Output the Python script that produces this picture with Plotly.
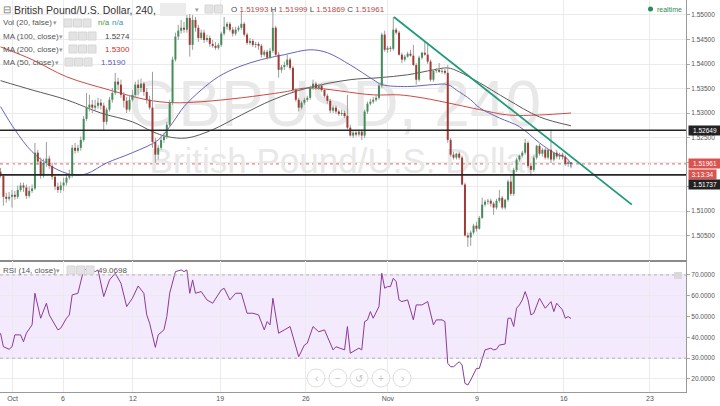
import plotly.graph_objects as go

# ---------------- data ----------------
candle_idx = list(range(200))
open_ = [1.5180,1.5172,1.5129,1.5125,1.5129,1.5133,1.5129,1.5143,1.5152,1.5148,
1.5131,1.5141,1.5146,1.5219,1.5201,1.5172,1.5198,1.5207,1.5192,1.5170,
1.5150,1.5143,1.5152,1.5158,1.5168,1.5172,1.5229,1.5223,1.5229,1.5245,
1.5288,1.5311,1.5317,1.5311,1.5315,1.5321,1.5315,1.5282,1.5307,1.5327,
1.5341,1.5364,1.5358,1.5337,1.5325,1.5307,1.5327,1.5337,1.5358,1.5351,
1.5360,1.5343,1.5327,1.5311,1.5241,1.5215,1.5229,1.5245,1.5252,1.5276,
1.5321,1.5409,1.5456,1.5468,1.5474,1.5470,1.5494,1.5439,1.5490,1.5474,
1.5453,1.5464,1.5449,1.5453,1.5441,1.5437,1.5433,1.5439,1.5462,1.5476,
1.5482,1.5470,1.5462,1.5470,1.5474,1.5482,1.5460,1.5443,1.5447,1.5439,
1.5441,1.5437,1.5419,1.5425,1.5413,1.5427,1.5474,1.5419,1.5388,1.5394,
1.5398,1.5409,1.5392,1.5347,1.5327,1.5311,1.5321,1.5327,1.5331,1.5351,
1.5360,1.5351,1.5356,1.5347,1.5335,1.5325,1.5305,1.5311,1.5303,1.5298,
1.5300,1.5294,1.5270,1.5254,1.5260,1.5256,1.5262,1.5254,1.5303,1.5319,
1.5323,1.5327,1.5331,1.5356,1.5460,1.5429,1.5433,1.5431,1.5470,1.5464,
1.5419,1.5409,1.5415,1.5421,1.5417,1.5398,1.5368,1.5413,1.5423,1.5419,
1.5405,1.5368,1.5386,1.5388,1.5384,1.5386,1.5382,1.5245,1.5215,1.5209,
1.5217,1.5209,1.5154,1.5050,1.5046,1.5056,1.5070,1.5064,1.5086,1.5113,
1.5119,1.5121,1.5115,1.5107,1.5121,1.5127,1.5107,1.5123,1.5160,1.5135,
1.5184,1.5205,1.5213,1.5219,1.5239,1.5192,1.5184,1.5209,1.5233,1.5217,
1.5225,1.5209,1.5225,1.5205,1.5219,1.5211,1.5215,1.5211,1.5196,1.51993]
high = [1.5188,1.5174,1.5137,1.5139,1.5143,1.5141,1.5152,1.5158,1.5158,1.5154,
1.5150,1.5154,1.5239,1.5225,1.5209,1.5207,1.5241,1.5213,1.5198,1.5174,
1.5158,1.5160,1.5168,1.5174,1.5184,1.5235,1.5239,1.5235,1.5252,1.5294,
1.5341,1.5337,1.5327,1.5327,1.5331,1.5329,1.5321,1.5311,1.5333,1.5351,
1.5382,1.5372,1.5368,1.5343,1.5333,1.5337,1.5347,1.5364,1.5368,1.5370,
1.5364,1.5351,1.5335,1.5384,1.5249,1.5235,1.5254,1.5260,1.5282,1.5327,
1.5415,1.5464,1.5480,1.5490,1.5486,1.5500,1.5502,1.5500,1.5496,1.5480,
1.5470,1.5470,1.5460,1.5458,1.5449,1.5445,1.5443,1.5466,1.5496,1.5486,
1.5486,1.5476,1.5476,1.5478,1.5507,1.5486,1.5464,1.5453,1.5451,1.5445,
1.5445,1.5441,1.5429,1.5429,1.5433,1.5511,1.5478,1.5425,1.5398,1.5405,
1.5419,1.5413,1.5396,1.5351,1.5331,1.5325,1.5331,1.5335,1.5356,1.5368,
1.5364,1.5360,1.5360,1.5351,1.5339,1.5329,1.5315,1.5315,1.5307,1.5307,
1.5305,1.5337,1.5276,1.5264,1.5264,1.5266,1.5266,1.5307,1.5323,1.5329,
1.5333,1.5337,1.5360,1.5464,1.5468,1.5437,1.5437,1.5496,1.5474,1.5468,
1.5423,1.5419,1.5425,1.5429,1.5439,1.5402,1.5417,1.5425,1.5445,1.5443,
1.5409,1.5388,1.5392,1.5402,1.5390,1.5390,1.5398,1.5249,1.5221,1.5219,
1.5221,1.5213,1.5158,1.5056,1.5060,1.5074,1.5078,1.5090,1.5127,1.5123,
1.5125,1.5125,1.5119,1.5125,1.5143,1.5131,1.5125,1.5164,1.5174,1.5188,
1.5209,1.5215,1.5223,1.5247,1.5243,1.5198,1.5213,1.5235,1.5237,1.5229,
1.5229,1.5227,1.5266,1.5221,1.5225,1.5219,1.5219,1.5215,1.5205,1.51999]
low = [1.5168,1.5111,1.5117,1.5121,1.5107,1.5123,1.5125,1.5139,1.5139,1.5125,
1.5127,1.5137,1.5143,1.5194,1.5166,1.5168,1.5190,1.5186,1.5164,1.5143,
1.5137,1.5137,1.5141,1.5152,1.5164,1.5168,1.5217,1.5219,1.5223,1.5241,
1.5284,1.5303,1.5300,1.5305,1.5309,1.5307,1.5264,1.5276,1.5303,1.5321,
1.5337,1.5347,1.5331,1.5311,1.5300,1.5303,1.5323,1.5331,1.5337,1.5343,
1.5335,1.5319,1.5307,1.5229,1.5198,1.5205,1.5225,1.5239,1.5247,1.5272,
1.5317,1.5405,1.5449,1.5462,1.5464,1.5464,1.5415,1.5429,1.5466,1.5445,
1.5449,1.5443,1.5445,1.5435,1.5433,1.5429,1.5429,1.5435,1.5458,1.5470,
1.5466,1.5456,1.5458,1.5466,1.5470,1.5456,1.5439,1.5439,1.5435,1.5433,
1.5429,1.5413,1.5415,1.5409,1.5411,1.5423,1.5415,1.5372,1.5382,1.5388,
1.5394,1.5388,1.5343,1.5323,1.5303,1.5307,1.5317,1.5323,1.5327,1.5347,
1.5347,1.5347,1.5343,1.5331,1.5319,1.5300,1.5300,1.5298,1.5294,1.5294,
1.5290,1.5266,1.5252,1.5249,1.5252,1.5252,1.5245,1.5249,1.5298,1.5315,
1.5319,1.5323,1.5327,1.5351,1.5425,1.5423,1.5425,1.5427,1.5460,1.5417,
1.5402,1.5405,1.5413,1.5415,1.5396,1.5358,1.5364,1.5409,1.5417,1.5400,
1.5364,1.5364,1.5382,1.5382,1.5380,1.5378,1.5239,1.5211,1.5205,1.5205,
1.5205,1.5152,1.5048,1.5027,1.5029,1.5052,1.5058,1.5062,1.5084,1.5109,
1.5113,1.5109,1.5092,1.5103,1.5117,1.5103,1.5103,1.5119,1.5131,1.5131,
1.5180,1.5201,1.5209,1.5215,1.5188,1.5172,1.5180,1.5205,1.5213,1.5211,
1.5205,1.5205,1.5198,1.5201,1.5207,1.5205,1.5205,1.5192,1.5190,1.51869]
close = [1.5172,1.5129,1.5125,1.5129,1.5133,1.5129,1.5143,1.5152,1.5148,1.5131,
1.5141,1.5146,1.5219,1.5201,1.5172,1.5198,1.5207,1.5192,1.5170,1.5150,
1.5143,1.5152,1.5158,1.5168,1.5172,1.5229,1.5223,1.5229,1.5245,1.5288,
1.5311,1.5317,1.5311,1.5315,1.5321,1.5315,1.5282,1.5307,1.5327,1.5341,
1.5364,1.5358,1.5337,1.5325,1.5307,1.5327,1.5337,1.5358,1.5351,1.5360,
1.5343,1.5327,1.5311,1.5241,1.5215,1.5229,1.5245,1.5252,1.5276,1.5321,
1.5409,1.5456,1.5468,1.5474,1.5470,1.5494,1.5439,1.5490,1.5474,1.5453,
1.5464,1.5449,1.5453,1.5441,1.5437,1.5433,1.5439,1.5462,1.5476,1.5482,
1.5470,1.5462,1.5470,1.5474,1.5482,1.5460,1.5443,1.5447,1.5439,1.5441,
1.5437,1.5419,1.5425,1.5413,1.5427,1.5474,1.5419,1.5388,1.5394,1.5398,
1.5409,1.5392,1.5347,1.5327,1.5311,1.5321,1.5327,1.5331,1.5351,1.5360,
1.5351,1.5356,1.5347,1.5335,1.5325,1.5305,1.5311,1.5303,1.5298,1.5300,
1.5294,1.5270,1.5254,1.5260,1.5256,1.5262,1.5254,1.5303,1.5319,1.5323,
1.5327,1.5331,1.5356,1.5460,1.5429,1.5433,1.5431,1.5470,1.5464,1.5419,
1.5409,1.5415,1.5421,1.5417,1.5398,1.5368,1.5413,1.5423,1.5419,1.5405,
1.5368,1.5386,1.5388,1.5384,1.5386,1.5382,1.5245,1.5215,1.5209,1.5217,
1.5209,1.5154,1.5050,1.5046,1.5056,1.5070,1.5064,1.5086,1.5113,1.5119,
1.5121,1.5115,1.5107,1.5121,1.5127,1.5107,1.5123,1.5160,1.5135,1.5184,
1.5205,1.5213,1.5219,1.5239,1.5192,1.5184,1.5209,1.5233,1.5217,1.5225,
1.5209,1.5225,1.5205,1.5219,1.5211,1.5215,1.5211,1.5196,1.51993,1.51961]

ma50_x = [0,5,11,18,25,30,37,46,55,60,64,70,76,83,91,99,108,114,122,130,133,142,151,156,159,164,167,174,181,188,193,198,199]
ma50_y = [1.5313,1.5266,1.5221,1.5190,1.5174,1.5176,1.5198,1.5219,1.5245,1.5280,1.5313,1.5347,1.5374,1.5394,1.5409,1.5419,1.5429,1.5423,1.5398,1.5368,1.5358,1.5354,1.5358,1.5358,1.5347,1.5327,1.5311,1.5290,1.5272,1.5239,1.5219,1.5205,1.5190]
ma100_x = [0,11,23,35,46,53,58,65,74,84,95,107,122,132,142,151,156,160,167,177,188,199]
ma100_y = [1.5366,1.5347,1.5327,1.5300,1.5282,1.5262,1.5252,1.5249,1.5266,1.5296,1.5327,1.5351,1.5368,1.5372,1.5378,1.5388,1.5392,1.5384,1.5362,1.5327,1.5292,1.5274]
ma200_x = [0,11,23,38,51,60,70,84,99,107,130,139,147,159,167,177,188,199]
ma200_y = [1.5435,1.5409,1.5374,1.5347,1.5327,1.5321,1.5323,1.5331,1.5343,1.5351,1.5337,1.5337,1.5331,1.5317,1.5307,1.5296,1.5296,1.5300]

rsi_x = [0,1,3,4,5,7,8,9,11,12,14,16,17,20,21,23,24,25,27,28,
         29,31,33,34,36,38,40,42,44,46,48,50,51,52,54,55,57,58,59,61,
         63,64,65,66,67,68,70,72,74,77,78,80,82,84,86,88,90,92,93,94,
         95,97,99,101,104,106,107,109,111,113,116,117,120,121,122,124,125,126,127,128,
         129,130,132,133,134,135,136,137,138,139,140,142,144,145,147,149,151,152,154,155,
         156,157,158,160,161,162,163,164,166,167,169,171,172,173,174,176,177,178,179,180,
         181,182,183,184,185,186,188,190,192,193,194,196,197,198,199]
rsi_y = [42.0,35.5,34.3,35.5,41.2,41.2,37.9,42.0,46.0,61.2,49.2,56.4,50.8,43.6,44.4,49.2,50.8,60.4,61.2,66.8,
         72.4,73.2,71.6,72.4,59.6,67.6,70.8,66.0,54.8,58.8,64.7,61.2,50.8,46.8,35.2,41.2,43.6,50.0,61.2,71.6,
         72.4,71.6,72.4,61.2,67.6,61.2,62.0,58.0,56.4,62.8,63.6,58.0,61.2,61.2,51.6,51.6,50.8,43.6,47.6,46.0,
         58.8,42.0,43.6,45.2,30.7,36.3,37.2,45.2,42.7,43.6,34.0,35.5,34.0,45.2,32.4,34.0,34.8,34.0,47.6,48.4,
         52.4,49.2,54.8,70.8,63.6,64.4,64.4,68.4,66.8,58.0,57.2,58.0,48.4,55.6,55.6,57.2,46.0,48.4,48.4,47.6,
         27.5,25.9,25.9,28.3,26.7,17.9,17.1,19.5,25.1,25.1,34.0,34.8,34.0,34.3,36.3,36.8,49.2,49.2,45.2,54.0,
         55.6,58.0,62.0,58.0,50.8,51.6,58.8,54.0,57.2,52.4,56.4,53.2,49.2,50.0,49.07]

levels = [1.52649, 1.51737]
last_price = 1.51961
trend_x = [137.2, 220.2]
trend_y = [1.5496, 1.5113]

day_ticks = [4.2, 21.8, 46.2, 76.6, 106.5, 135.1, 166.2, 196.5, 226.5]
day_labels = ["Oct", "6", "12", "19", "26", "Nov", "9", "16", "23"]
price_ticks = [1.505, 1.510, 1.515, 1.520, 1.525, 1.530, 1.535, 1.540, 1.545, 1.550]
price_labels = ["1.50500", "1.51000", "", "", "1.52500", "1.53000", "1.53500", "1.54000", "1.54500", "1.55000"]
rsi_ticks = [20, 30, 40, 50, 60, 70]
rsi_labels = ["20.0000", "30.0000", "40.0000", "50.0000", "60.0000", "70.0000"]

# ---------------- layout constants ----------------
W, H = 720, 406
PLOT_R = 686
def fx(px):
    return px / W
def fy(py):
    return 1 - py / H

FONT = "Liberation Sans, Arial, sans-serif"
UP, DN, WICK = "#448c5a", "#a23b36", "#9d9d9d"
WM = "#e8e8e8"

fig = go.Figure()

# watermark (behind candles)
fig.add_trace(go.Scatter(x=[116.6], y=[1.5307], mode="text", text=["GBPUSD, 240"],
                         textfont=dict(size=64, color=WM, family=FONT),
                         hoverinfo="skip", showlegend=False))
fig.add_trace(go.Scatter(x=[119.5], y=[1.5195], mode="text", text=["British Pound/U.S. Dollar"],
                         textfont=dict(size=35, color=WM, family=FONT),
                         hoverinfo="skip", showlegend=False))

# moving averages
for xs, ys, col in [(ma200_x, ma200_y, "#cc4a44"), (ma100_x, ma100_y, "#5a5a5a"), (ma50_x, ma50_y, "#6464bc")]:
    fig.add_trace(go.Scatter(x=xs, y=ys, mode="lines", line=dict(color=col, width=1, shape="spline"),
                             hoverinfo="skip", showlegend=False))

# wicks
wx, wy = [], []
for i, h, l in zip(candle_idx, high, low):
    wx += [i, i, None]
    wy += [l, h, None]
fig.add_trace(go.Scatter(x=wx, y=wy, mode="lines", line=dict(color=WICK, width=1),
                         hoverinfo="skip", showlegend=False))

# bodies
ux, uy, dx, dy = [], [], [], []
for i, o, c in zip(candle_idx, open_, close):
    lo, hi = min(o, c), max(o, c)
    if hi - lo < 0.00005:
        m = (hi + lo) / 2
        lo, hi = m - 0.000025, m + 0.000025
    if c >= o:
        ux += [i, i, None]; uy += [lo, hi, None]
    else:
        dx += [i, i, None]; dy += [lo, hi, None]
fig.add_trace(go.Scatter(x=ux, y=uy, mode="lines", line=dict(color=UP, width=2),
                         hoverinfo="skip", showlegend=False))
fig.add_trace(go.Scatter(x=dx, y=dy, mode="lines", line=dict(color=DN, width=2),
                         hoverinfo="skip", showlegend=False))

# trend line
fig.add_trace(go.Scatter(x=trend_x, y=trend_y, mode="lines", line=dict(color="#1f9a7a", width=1.8),
                         hoverinfo="skip", showlegend=False))

# RSI
fig.add_trace(go.Scatter(x=rsi_x, y=rsi_y, mode="lines", line=dict(color="#8b3a9b", width=1),
                         xaxis="x2", yaxis="y2", hoverinfo="skip", showlegend=False))

shapes = []
shapes.append(dict(type="rect", xref="x2 domain", yref="y2", x0=0, x1=1, y0=30, y1=70,
                   fillcolor="#f4eafd", line=dict(width=0), layer="below"))
for v in (30, 70):
    shapes.append(dict(type="line", xref="x2 domain", yref="y2", x0=0, x1=1, y0=v, y1=v,
                       line=dict(color="#b8b0bc", width=1, dash="dot")))
shapes.append(dict(type="line", xref="x domain", yref="y", x0=0, x1=1, y0=last_price, y1=last_price,
                   line=dict(color="#d46a66", width=1, dash="dot"), layer="below"))
for lv in levels:
    shapes.append(dict(type="line", xref="x domain", yref="y", x0=0, x1=1, y0=lv, y1=lv,
                       line=dict(color="#262626", width=1.6)))

def icon_boxes(x0, y0, n, size=8, gap=1.5):
    out = []
    for k in range(n):
        a = x0 + k * (size + gap)
        out.append(dict(type="rect", xref="paper", yref="paper", x0=fx(a), x1=fx(a + size),
                        y0=fy(y0 + size), y1=fy(y0), fillcolor="#e3e3e3", line=dict(color="#d6d6d6", width=1)))
    return out
shapes += icon_boxes(205, 5, 2)
shapes += icon_boxes(64, 19, 3)
shapes += icon_boxes(69, 32, 3)
shapes += icon_boxes(69, 45, 3)
shapes += icon_boxes(65, 58, 3)
shapes += icon_boxes(67, 266, 3)
shapes.append(dict(type="rect", xref="paper", yref="paper", x0=fx(160), x1=fx(186), y0=fy(16), y1=fy(3),
                   fillcolor="#ececec", line=dict(width=0)))
shapes.append(dict(type="rect", xref="paper", yref="paper", x0=fx(674), x1=fx(682), y0=fy(279), y1=fy(272),
                   fillcolor="#d9d9d9", line=dict(width=0)))
shapes.append(dict(type="circle", xref="paper", yref="paper", x0=fx(648), x1=fx(653), y0=fy(11.5), y1=fy(6.5),
                   fillcolor="#2e8b57", line=dict(width=0)))
nav_x = [316, 338, 359, 381, 402]
nav_t = ["‹", "−", "↺", "+", "›"]
for cx in nav_x:
    shapes.append(dict(type="circle", xref="paper", yref="paper", x0=fx(cx - 9), x1=fx(cx + 9),
                       y0=fy(387), y1=fy(369), fillcolor="rgba(255,255,255,0.7)",
                       line=dict(color="#dedede", width=1)))

ann = []
def txt(x, y, s, size=8, color="#555", anchor="left", **kw):
    ann.append(dict(x=fx(x), y=fy(y), xref="paper", yref="paper", text=s, showarrow=False,
                    xanchor=anchor, yanchor="middle", font=dict(size=size, color=color, family=FONT), **kw))

txt(1, 9.5, "⊟", size=10, color="#777")
txt(12, 10, "British Pound/U.S. Dollar, 240,", size=10.5, color="#333")
txt(193, 9.5, "▾", size=7, color="#999")
red = "#b94a48"
txt(229, 10, f"O <span style='color:{red}'>1.51993</span> H <span style='color:{red}'>1.51999</span> "
             f"L <span style='color:{red}'>1.51869</span> C <span style='color:{red}'>1.51961</span>",
    size=8, color="#444")
txt(1, 23, "Vol (20, false)", size=8)
txt(51, 23, "▾", size=6.5, color="#999")
txt(96, 23, "n/a", size=8, color="#3a9a3a")
txt(110, 23, "n/a", size=8, color="#3a8fc0")
txt(1, 36, "MA (100, close)", size=8)
txt(57, 36, "▾", size=6.5, color="#999")
txt(103, 36, "1.5274", size=8, color="#444")
txt(1, 49, "MA (200, close)", size=8)
txt(57, 49, "▾", size=6.5, color="#999")
txt(103, 49, "1.5300", size=8, color="#c9302c")
txt(1, 62, "MA (50, close)", size=8)
txt(53, 62, "▾", size=6.5, color="#999")
txt(99, 62, "1.5190", size=8, color="#5a5ab0")
txt(1, 270.5, "RSI (14, close)", size=8)
txt(54, 270.5, "▾", size=6.5, color="#999")
txt(96, 270.5, "49.0698", size=8, color="#555")
txt(655, 9, "realtime", size=7, color="#2e8b57")
for cx, t in zip(nav_x, nav_t):
    txt(cx, 378, t, size=10, color="#c4c4c4", anchor="center")

def plabel(price, s, bg, yshift=0, w=31):
    ann.append(dict(x=fx(688), y=price, xref="paper", yref="y", text=s, showarrow=False,
                    xanchor="left", yanchor="middle", yshift=yshift, bgcolor=bg, width=w, height=8,
                    borderpad=0.5, font=dict(size=6.5, color="white", family=FONT)))
plabel(levels[0], "1.52649", "#222222")
plabel(last_price, "1.51961", "#d9534f")
plabel(last_price, "3:13:34", "#d9534f", yshift=-11, w=26)
plabel(levels[1], "1.51737", "#222222", yshift=-10)

axis_font = dict(size=6.5, color="#555", family=FONT)
fig.update_layout(
    width=W, height=H, margin=dict(l=0, r=0, t=0, b=0),
    paper_bgcolor="white", plot_bgcolor="white", showlegend=False,
    xaxis=dict(domain=[0, fx(PLOT_R)], range=[-0.185, 239.1], anchor="y",
               tickvals=day_ticks, showticklabels=False, ticks="",
               showgrid=True, gridcolor="#ebebeb", gridwidth=1, zeroline=False,
               showline=True, linecolor="#8a8a8a", linewidth=2),
    xaxis2=dict(domain=[0, fx(PLOT_R)], range=[-0.185, 239.1], anchor="y2", matches="x",
                tickvals=day_ticks, ticktext=day_labels, tickfont=dict(size=7, color="#555", family=FONT),
                showgrid=True, gridcolor="#ebebeb", zeroline=False, ticks="",
                showline=True, linecolor="#9a9a9a", linewidth=1),
    yaxis=dict(domain=[fy(260), 1], range=[1.5000, 1.55306], side="right", anchor="x",
               tickvals=price_ticks, ticktext=price_labels, tickfont=axis_font,
               ticks="outside", ticklen=3, tickcolor="#aaa",
               showgrid=True, gridcolor="#ebebeb", zeroline=False,
               showline=True, linecolor="#9a9a9a", linewidth=1),
    yaxis2=dict(domain=[fy(392), fy(261)], range=[13.75, 76.7], side="right", anchor="x2",
                tickvals=rsi_ticks, ticktext=rsi_labels, tickfont=axis_font,
                ticks="outside", ticklen=3, tickcolor="#aaa",
                showgrid=True, gridcolor="#ebebeb", zeroline=False,
                showline=True, linecolor="#9a9a9a", linewidth=1),
    shapes=shapes, annotations=ann,
)

fig.write_html("out.html", config={"displayModeBar": False},
               post_script="document.body.style.margin='0px';document.body.style.overflow='hidden';")
